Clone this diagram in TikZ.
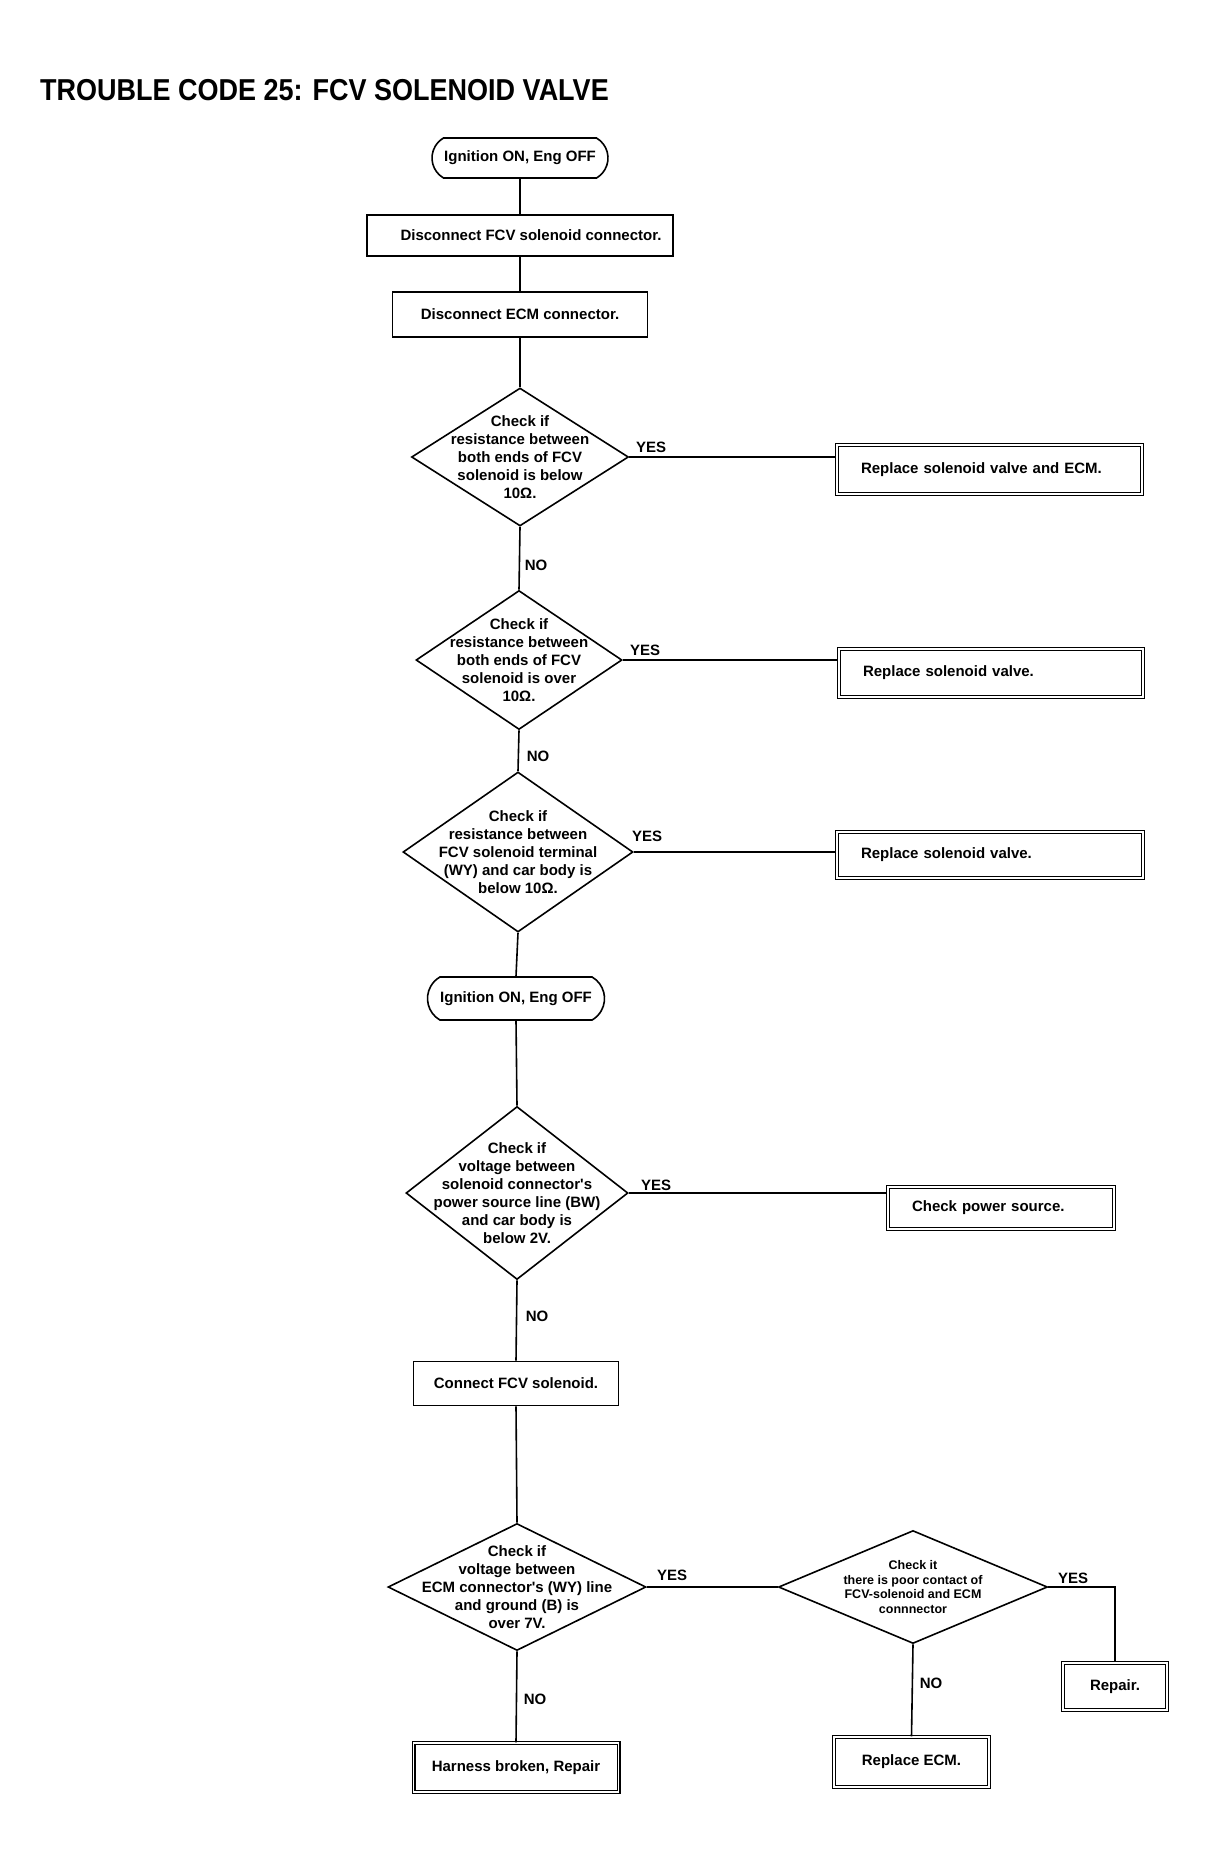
\documentclass[tikz,border=0pt]{standalone}
\usepackage{fontspec}
\usepackage{graphicx}
\usetikzlibrary{shapes.geometric,shapes.misc}
\setmainfont{Liberation Sans}
\newfontfamily\bodyfont{Liberation Sans Bold}
\newfontfamily\titlefont{Liberation Sans Bold}
\newfontfamily\labelfont{Liberation Sans Bold}
\tikzset{
  conn/.style={line width=1.6pt},
  txt/.style={font=\bodyfont\fontsize{15}{18}\selectfont},
  plainbox/.style={txt, draw, rectangle, line width=1.6pt, inner sep=0pt},
  resbox/.style={txt, draw, rectangle, double, double distance=1.6pt, line width=1.2pt, inner ysep=0pt, inner xsep=24pt, align=left},
  cresbox/.style={txt, draw, rectangle, double, double distance=1.6pt, line width=1.2pt, inner sep=0pt},
  dia/.style={draw, diamond, line width=1.6pt, inner sep=0pt},
  diatext/.style={txt, align=center, inner sep=0pt},
  smalltext/.style={font=\bodyfont\fontsize{12.5}{14.5}\selectfont, align=center, inner sep=0pt},
  term/.style={txt, draw, rounded rectangle, rounded rectangle arc length=120, line width=1.6pt, inner sep=0pt},
  yn/.style={font=\labelfont\fontsize{15}{15}\selectfont, inner sep=0pt}
}
\begin{document}
\begin{tikzpicture}[x=1pt,y=-1pt]
\useasboundingbox (0,0) rectangle (1205,1868);
\fill[white] (0,0) rectangle (1205,1868);

\node[anchor=base west, inner sep=0pt, font=\titlefont\fontsize{27}{30}\selectfont] (title) at (40,100) {\scalebox{1}[1.12]{TROUBLE CODE 25: FCV SOLENOID VALVE}};

% main column
\node[term, minimum width=176pt, minimum height=40pt] (t1) at (520,158) {Ignition ON, Eng OFF};
\node[plainbox, minimum width=306pt, minimum height=41pt] (b1) at (520,235.5) {\hspace*{22pt}Disconnect FCV solenoid connector.};
\node[plainbox, minimum width=255pt, minimum height=45pt] (b2) at (520,314.5) {Disconnect ECM connector.};

\node[dia, minimum width=217pt, minimum height=138pt] (d1) at (520,457) {};
\node[diatext] (d1t) at (d1) {Check if\\resistance between\\both ends of FCV\\solenoid is below\\10Ω.};
\node[resbox, text width=257pt, minimum height=49pt] (r1) at (989.5,469.5) {Replace solenoid valve and ECM.};

\node[dia, minimum width=206pt, minimum height=139pt] (d2) at (519,660) {};
\node[diatext] (d2t) at (d2) {Check if\\resistance between\\both ends of FCV\\solenoid is over\\10Ω.};
\node[resbox, text width=256pt, minimum height=48pt] (r2) at (991,673) {Replace solenoid valve.};

\node[dia, minimum width=230pt, minimum height=160pt] (d3) at (518,852) {};
\node[diatext] (d3t) at (d3) {Check if\\resistance between\\FCV solenoid terminal\\(WY) and car body is\\below 10Ω.};
\node[resbox, text width=258pt, minimum height=46pt] (r3) at (990,855) {Replace solenoid valve.};

\node[term, minimum width=177pt, minimum height=43pt] (t2) at (516,998.5) {Ignition ON, Eng OFF};

\node[dia, minimum width=222pt, minimum height=173pt] (d4) at (517,1193) {};
\node[diatext] (d4t) at (d4) {Check if\\voltage between\\solenoid connector's\\power source line (BW)\\and car body is\\below 2V.};
\node[resbox, text width=178pt, minimum height=42pt] (r4) at (1001,1208) {Check power source.};

\node[plainbox, minimum width=205pt, minimum height=44pt] (cb) at (516,1383.5) {Connect FCV solenoid.};

\node[dia, minimum width=258pt, minimum height=127pt] (d6) at (517,1587) {};
\node[diatext] (d6t) at (d6) {Check if\\voltage between\\ECM connector's (WY) line\\and ground (B) is\\over 7V.};

\node[cresbox, minimum width=205pt, minimum height=49pt] (hb) at (516,1767.5) {Harness broken, Repair};

\node[dia, minimum width=269pt, minimum height=113pt] (d7) at (913,1587) {};
\node[smalltext] (d7t) at (d7) {Check it\\there is poor contact of\\FCV-solenoid and ECM\\connnector};

\node[cresbox, minimum width=155pt, minimum height=50pt] (recm) at (911.5,1762) {Replace ECM.};
\node[cresbox, minimum width=104pt, minimum height=47pt] (rep) at (1115,1686.5) {Repair.};

% labels
\node[yn] (y1) at (651,447) {YES};
\node[yn] (y2) at (645,650) {YES};
\node[yn] (y3) at (647,836) {YES};
\node[yn] (y4) at (656,1185) {YES};
\node[yn] (y6) at (672,1575) {YES};
\node[yn] (y7) at (1073,1578) {YES};
\node[yn] (n1) at (536,565) {NO};
\node[yn] (n2) at (538,756) {NO};
\node[yn] (n4) at (537,1316) {NO};
\node[yn] (n6) at (535,1699) {NO};
\node[yn] (n7) at (931,1683) {NO};

% connectors
\draw[conn] (t1.south) -- (b1.north);
\draw[conn] (b1.south) -- (b2.north);
\draw[conn] (b2.south) -- (d1.north);
\draw[conn] (d1.south) -- (d2.north);
\draw[conn] (d2.south) -- (d3.north);
\draw[conn] (d3.south) -- (t2.north);
\draw[conn] (t2.south) -- (d4.north);
\draw[conn] (d4.south) -- (cb.north);
\draw[conn] (cb.south) -- (d6.north);
\draw[conn] (d6.south) -- (hb.north);

\draw[conn] (d1.east) -- (d1.east -| r1.west);
\draw[conn] (d2.east) -- (d2.east -| r2.west);
\draw[conn] (d3.east) -- (d3.east -| r3.west);
\draw[conn] (d4.east) -- (d4.east -| r4.west);
\draw[conn] (d6.east) -- (d7.west);
\draw[conn] (d7.east) -- (d7.east -| rep.north) -- (rep.north);
\draw[conn] (d7.south) -- (recm.north);
\end{tikzpicture}
\end{document}
